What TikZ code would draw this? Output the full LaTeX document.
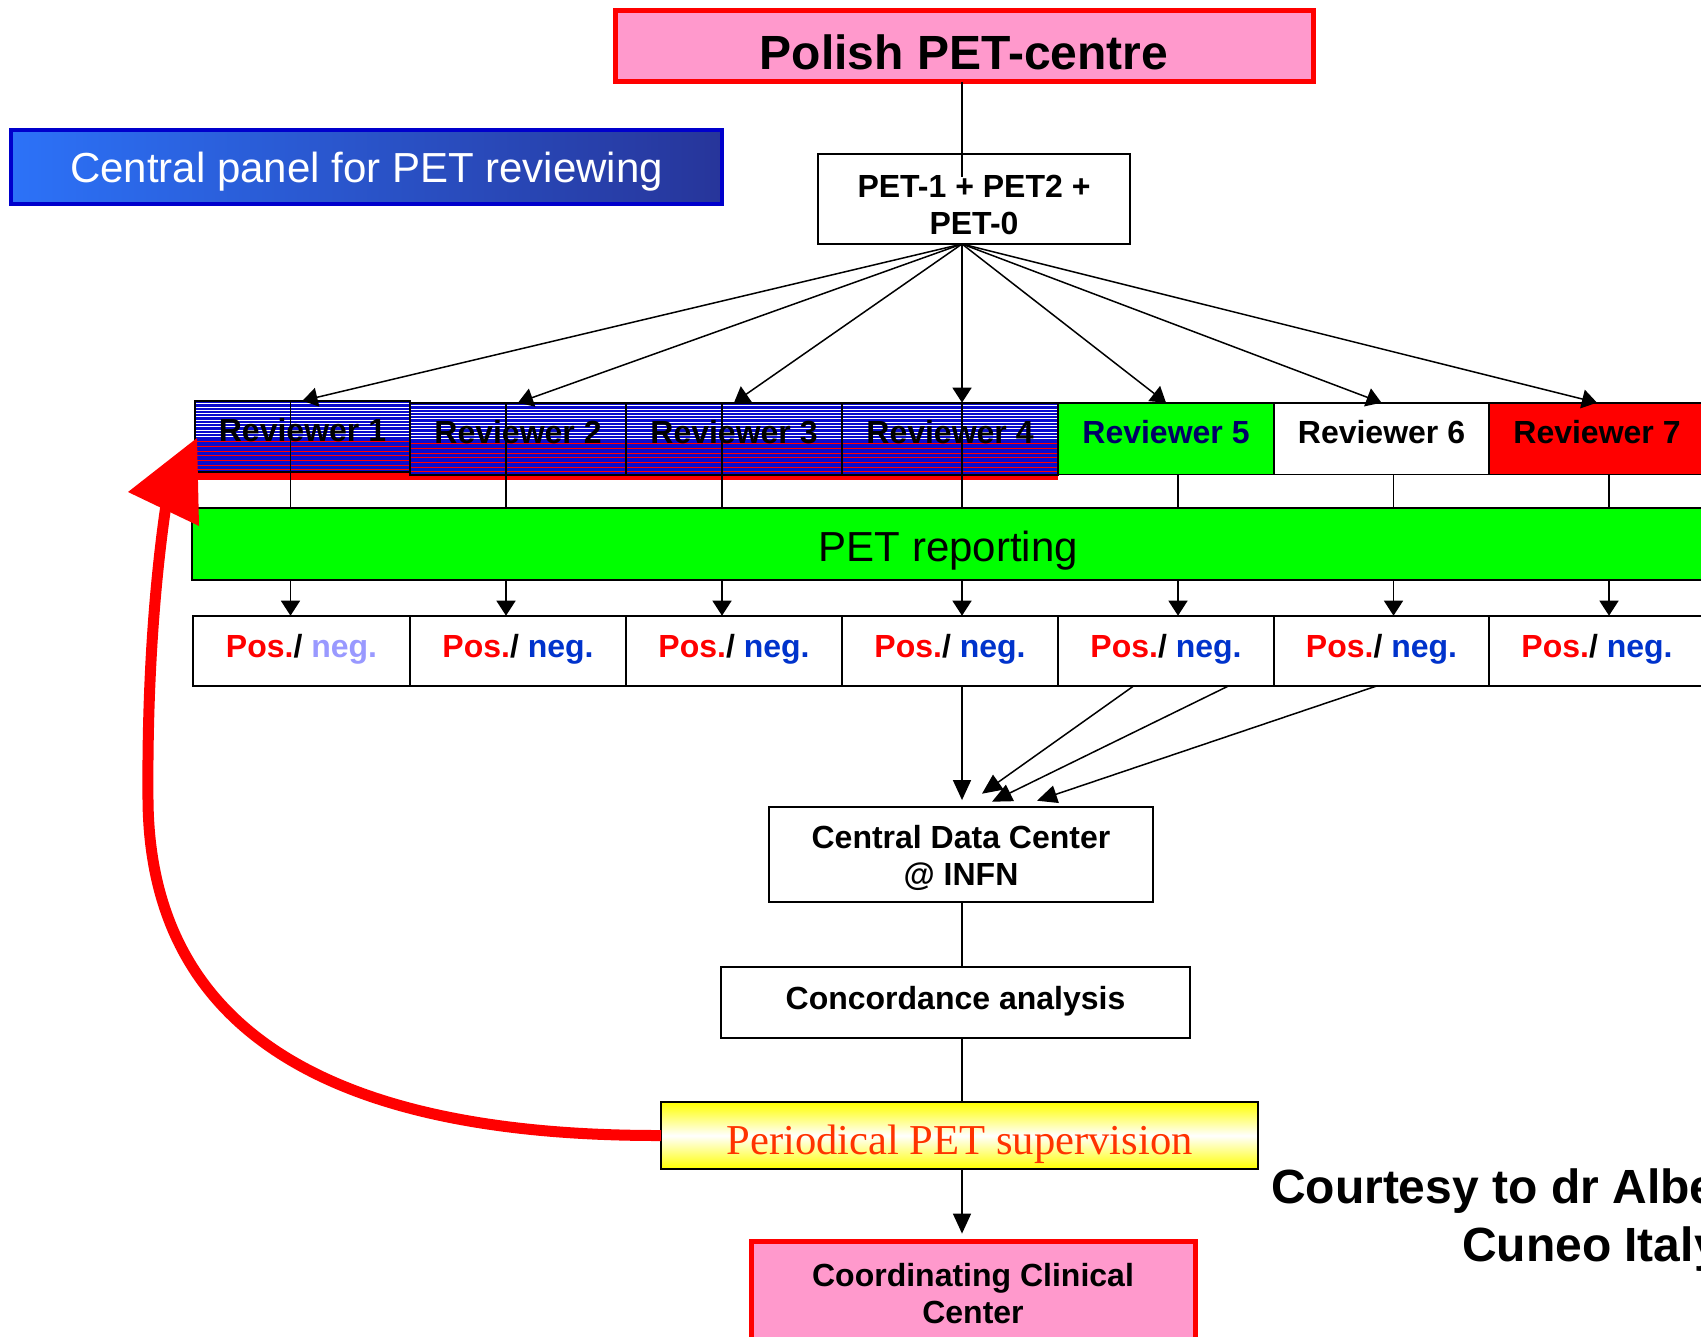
\documentclass[tikz,border=0pt]{standalone}
\usepackage{fontspec}
\setmainfont{Liberation Sans}
\newfontfamily\seriffont{Liberation Serif}
\usetikzlibrary{arrows.meta,calc}
\definecolor{pinkfill}{HTML}{FF99CC}
\definecolor{revblue}{HTML}{0A0ACC}
\definecolor{negblue}{HTML}{0033CC}
\definecolor{neglight}{HTML}{9999FF}
\definecolor{navy}{HTML}{000066}
\definecolor{cpL}{HTML}{2C72F8}
\definecolor{cpR}{HTML}{27359A}
\definecolor{cpBorder}{HTML}{0000CC}
\definecolor{perText}{HTML}{FF3300}
\definecolor{brightgreen}{HTML}{00FF00}
\newcommand{\pnT}[1]{\textcolor{red}{Pos.}/ \textcolor{#1}{neg.}}
\newcommand{\twol}[2]{\begin{tabular}[b]{@{}c@{}}#1\\#2\end{tabular}}
\begin{document}
\begin{tikzpicture}[x=0.5pt,y=-0.5pt,
  every node/.style={inner sep=0pt, outer sep=0pt},
  arr/.style={-{Triangle[length=7.5pt,width=9.5pt]}, line width=0.75pt},
  bigarr/.style={-{Triangle[length=10pt,width=9pt]}, line width=0.75pt},
  conn/.style={line width=0.75pt},
  bl/.style={text height=#1pt, text depth=0pt},
  plain/.style={draw=black, line width=0.9pt, font=\fontsize{16}{18.5}\selectfont\bfseries},
  redbox/.style={draw=red, line width=2.5pt, fill=pinkfill},
  rev/.style={draw=black, line width=0.8pt, minimum height=36pt, font=\fontsize{16}{18.5}\selectfont\bfseries},
  pn/.style={draw=black, line width=0.8pt, fill=white, minimum height=35pt, font=\fontsize{16}{18.5}\selectfont\bfseries, bl=7},
  striped/.style={path picture={
    \fill[revblue] (path picture bounding box.south west) rectangle (path picture bounding box.north east);
    \foreach \k in {0,...,10} \draw[white, line width=0.5pt] ($(path picture bounding box.north west)+(0,3+3.3*\k)$) -- ++(230,0);
    \foreach \k in {0,...,6} \draw[red, line width=0.5pt] ($(path picture bounding box.north west)+(0,41+4.7*\k)$) -- ++(230,0);
  }}
]
\useasboundingbox (0,0) rectangle (1701,1337);
\clip (0,0) rectangle (1701,1337);

% top
\node[redbox, minimum width=349pt, minimum height=35.8pt, font=\fontsize{24}{28}\selectfont\bfseries, bl=24] (pol) at (964,46) {Polish PET-centre};
\node[draw=cpBorder, line width=2pt, left color=cpL, right color=cpR, minimum width=355.5pt, minimum height=37pt, text=white, font=\fontsize{21}{25}\selectfont, bl=15.7] (cp) at (366.5,167) {Central panel for PET reviewing};

\coordinate (hub) at (962,244);
\coordinate (spineEnd) at (962,177);
\draw[conn] (pol.south -| hub) -- (spineEnd);
\node[plain, minimum width=156pt, minimum height=45pt, bl=35.3] (pet) at (974,199) {\twol{PET-1 + PET2 +}{PET-0}};

% red shadow under reviewers 1-4
\fill[red] (197,420) rectangle (1058,479.5);

% reviewers
\node[rev, striped, minimum width=107.5pt, minimum height=35.65pt, bl=5.4] (r1) at (302.5,436.4) {Reviewer 1};
\node[rev, striped, minimum width=108pt, bl=4.7] (r2) at (518,438.7) {Reviewer 2};
\node[rev, striped, minimum width=108pt, bl=4.7] (r3) at (734,438.7) {Reviewer 3};
\node[rev, striped, minimum width=108pt, bl=4.7] (r4) at (950,438.7) {Reviewer 4};
\node[rev, fill=brightgreen, text=navy, minimum width=108pt, minimum height=35.8pt, bl=4.8] (r5) at (1166,438.5) {Reviewer 5};
\node[rev, fill=white, minimum width=107.5pt, minimum height=35.8pt, bl=4.8] (r6) at (1381.5,438.5) {Reviewer 6};
\node[rev, fill=red, minimum width=108pt, minimum height=35.8pt, bl=4.8] (r7) at (1597,438.5) {Reviewer 7};

% fan arrows
\foreach \r in {r1,r2,r3,r5,r6,r7} \draw[arr] (hub) -- (\r.north);
\draw[arr] (hub) -- (hub |- r4.north);

% PET reporting
\node[draw=black, line width=0.9pt, fill=brightgreen, minimum width=756.5pt, minimum height=36pt, font=\fontsize{21}{25}\selectfont, bl=17] (rep) at (948.5,544) {PET reporting};

% pos/neg
\node[pn, minimum width=108.5pt] (p1) at (301.5,650.7) {\pnT{neglight}};
\node[pn, minimum width=108pt] (p2) at (518,650.7) {\pnT{negblue}};
\node[pn, minimum width=108pt] (p3) at (734,650.7) {\pnT{negblue}};
\node[pn, minimum width=108pt] (p4) at (950,650.7) {\pnT{negblue}};
\node[pn, minimum width=108pt] (p5) at (1166,650.7) {\pnT{negblue}};
\node[pn, minimum width=107.5pt] (p6) at (1381.5,650.7) {\pnT{negblue}};
\node[pn, minimum width=108pt] (p7) at (1597,650.7) {\pnT{negblue}};

% vertical connectors reviewer -> reporting -> pos/neg
\foreach \r/\p in {r1/p1,r2/p2,r3/p3} {
  \draw[conn] ([xshift=-6pt]\r.north) -- ([xshift=-6pt]\r.north |- rep.north);
  \draw[arr] ([xshift=-6pt]\r.north |- rep.south) -- ([xshift=-6pt]\r.north |- \p.north);
}
\draw[conn] (hub |- r4.north) -- (hub |- rep.north);
\draw[arr] (hub |- rep.south) -- (hub |- p4.north);
\foreach \r/\p in {r5/p5,r6/p6,r7/p7} {
  \draw[conn] ([xshift=6pt]\r.south) -- ([xshift=6pt]\r.south |- rep.north);
  \draw[arr] ([xshift=6pt]\r.south |- rep.south) -- ([xshift=6pt]\r.south |- \p.north);
}

% central data center
\node[plain, minimum width=192pt, minimum height=47.5pt, bl=30.8] (cdc) at (961,854.2) {\twol{Central Data Center}{@ INFN}};
\draw[bigarr, shorten >=3.3pt] (hub |- p4.south) -- (hub |- cdc.north);
\draw[bigarr] ([xshift=-16pt]p5.south) -- ($(cdc.north)+(21,-13)$);
\draw[bigarr] ([xshift=31.5pt]p5.south) -- ($(cdc.north)+(31,-5)$);
\draw[bigarr] ([xshift=-2pt]p6.south) -- ($(cdc.north)+(76,-6)$);

% concordance
\node[plain, minimum width=234.5pt, minimum height=35.5pt, bl=6.5] (con) at (955.5,1002.8) {Concordance analysis};
\draw[conn] (hub |- cdc.south) -- (hub |- con.north);

% periodical
\node[draw=black, line width=0.9pt, top color=yellow, bottom color=yellow, middle color=white, minimum width=298.5pt, minimum height=33.5pt, text=perText, font=\seriffont\fontsize{21.3}{25}\selectfont, bl=18.5] (per) at (959.5,1135.5) {Periodical PET supervision};
\draw[conn] (hub |- con.south) -- (hub |- per.north);

% coordinating
\node[redbox, minimum width=222pt, minimum height=52pt, font=\fontsize{16}{18.5}\selectfont\bfseries, bl=30] (coo) at (973,1293) {\twol{Coordinating Clinical}{Center}};
\draw[bigarr, shorten >=3.7pt] (hub |- per.south) -- (hub |- coo.north);

% red feedback arrow
\coordinate (fbbase) at (166,505);
\draw[red, line width=5.5pt] (per.west) .. controls (380,1136) and (150,1060) .. (148,800) .. controls (147,680) and (155,580) .. (fbbase);
\fill[red] (197,438) -- (128,492) -- (199,526) -- cycle;

% courtesy
\node[anchor=base west, font=\fontsize{24}{28}\selectfont\bfseries] (ct1) at (1271,1203.5) {Courtesy to dr Albe};
\node[anchor=base west, font=\fontsize{24}{28}\selectfont\bfseries] (ct2) at (1462,1261.7) {Cuneo Italy};
\end{tikzpicture}
\end{document}
